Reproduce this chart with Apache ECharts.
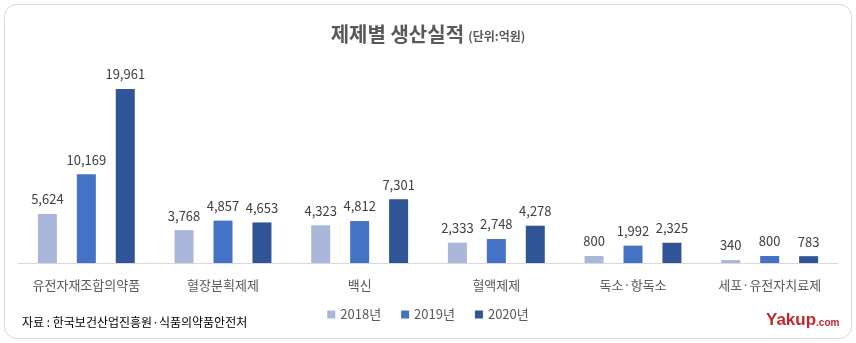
<!DOCTYPE html>
<html><head><meta charset="utf-8">
<script src="https://cdn.jsdelivr.net/npm/echarts@6/dist/echarts.min.js"></script>
<style>html,body{margin:0;padding:0;background:#fff}#c{width:856px;height:343px}</style>
</head><body><div id="c"></div>
<script>
var categories = ['유전자재조합의약품','혈장분획제제','백신','혈액제제','독소·항독소','세포·유전자치료제'];
var years = ['2018년','2019년','2020년'];
var v2018 = [5624, 3768, 4323, 2333, 800, 340];
var v2019 = [10169, 4857, 4812, 2748, 1992, 800];
var v2020 = [19961, 4653, 7301, 4278, 2325, 783];
var colors = ['#A9B7DA', '#4472C4', '#2F5597'];
var font = '"Malgun Gothic","Noto Sans CJK KR",sans-serif';
var chart = echarts.init(document.getElementById('c'));
function mk(name, data, color){
  return {name:name, type:'bar', data:data, barWidth:19, barGap:'105%',
    itemStyle:{color:color},
    label:{show:true, position:'top', distance:8, color:'#404040', fontSize:13, fontFamily:font,
      formatter:function(p){return p.value.toLocaleString('en-US');}}};
}
chart.setOption({
  animation:false,
  textStyle:{fontFamily:font},
  title:{text:'{a|제제별 생산실적} {b|(단위:억원)}', left:'center', top:19,
    textStyle:{rich:{a:{fontSize:20, fontWeight:'bold', color:'#595959', fontFamily:font},
                     b:{fontSize:12, color:'#595959', fontFamily:font, padding:[4,0,0,0]}}}},
  legend:{bottom:17, left:'center', itemWidth:8, itemHeight:8, itemGap:20, icon:'rect',
    textStyle:{color:'#595959', fontSize:13, fontFamily:font}, data:years},
  grid:{left:18, right:18, top:45, bottom:80},
  xAxis:{type:'category', data:categories,
    axisLine:{lineStyle:{color:'#d9d9d9'}}, axisTick:{show:false},
    axisLabel:{interval:0, color:'#595959', fontSize:13, margin:16, fontFamily:font}},
  yAxis:{type:'value', min:0, max:25000, show:false, splitLine:{show:false}},
  series:[mk(years[0], v2018, colors[0]), mk(years[1], v2019, colors[1]), mk(years[2], v2020, colors[2])],
  graphic:[
    {type:'rect', shape:{x:4.5, y:4.5, width:847, height:334, r:12}, style:{fill:'none', stroke:'#d9d9d9', lineWidth:1}, silent:true},
    {type:'text', left:22, top:316, style:{text:'자료 : 한국보건산업진흥원·식품의약품안전처', fontSize:12, fill:'#000', fontFamily:font}},
    {type:'text', left:766, top:312, style:{text:'{y|Yakup}{c|.com}', rich:{
      y:{fontSize:17, fontWeight:'bold', fill:'#C1272D', fontFamily:'"Liberation Sans",Arial,sans-serif'},
      c:{fontSize:10, fontWeight:'bold', fill:'#C1272D', fontFamily:'"Liberation Sans",Arial,sans-serif', padding:[5,0,0,0]}}}}
  ]
});
</script></body></html>
